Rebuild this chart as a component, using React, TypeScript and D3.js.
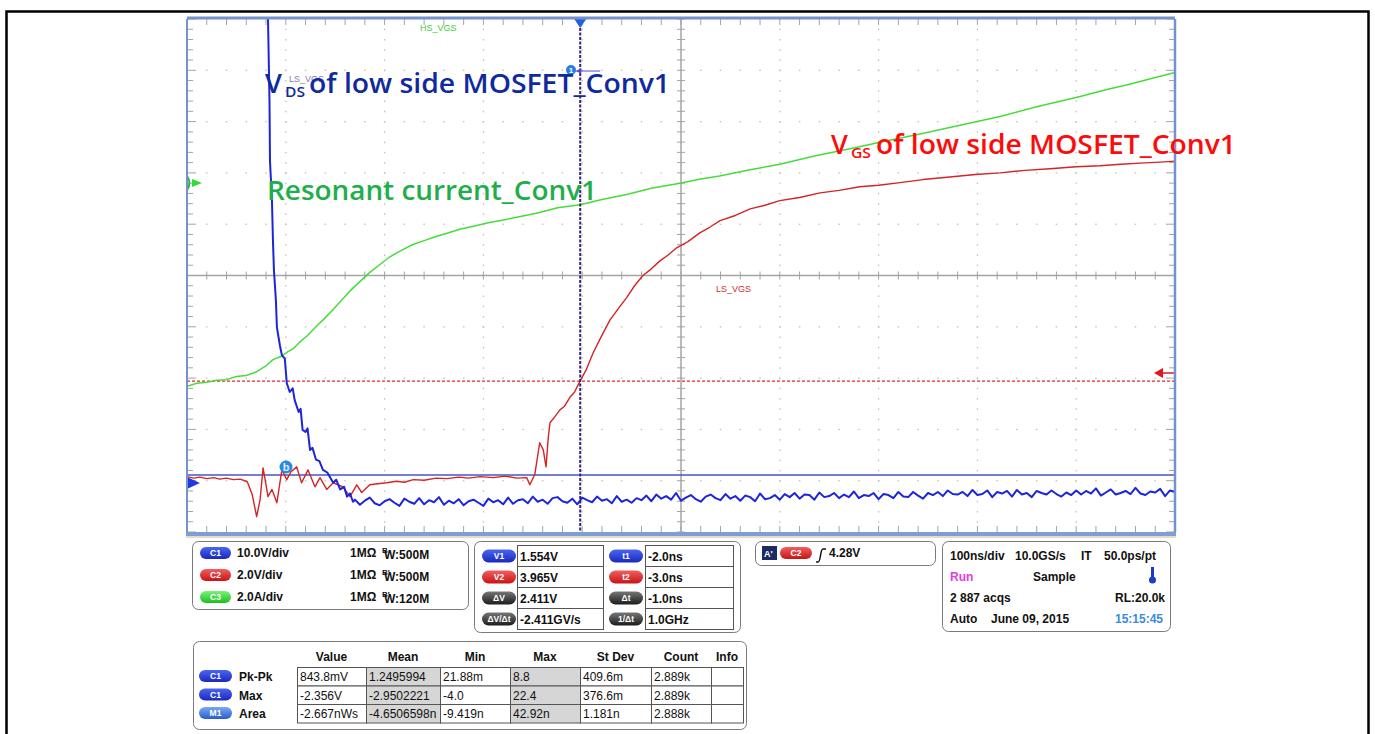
import React from 'react';
import * as d3 from 'd3';

// ---- data (time in ns across the 10-div screen, value in screen divisions) ----
const timeDomain: [number, number] = [0, 1000];
const divDomain: [number, number] = [-5, 5];
const gridTimes = [100, 200, 300, 400, 600, 700, 800, 900];
const gridDivs = [-4, -3, -2, -1, 1, 2, 3, 4];

// C1 : VDS of low side MOSFET (blue)
const vdsTrace: [number, number][] = [
  [81, 5.4], [82, 5.0], [83.5, 3.4], [84, 2.23], [86, 1.46], [87, 0.68], [88, 0.1], [90, -0.49],
  [91, -1.01], [94, -1.36], [96, -1.55], [99, -1.62], [101, -2.1], [104, -2.27], [107, -2.2],
  [109, -2.43], [113, -2.66], [115, -2.6], [117, -3.01], [120, -3.05], [122, -2.98], [124.5, -3.4],
  [127, -3.36], [130.6, -3.59], [134, -3.62], [137.6, -3.79], [142, -3.84], [148, -4.04],
  [151, -3.98], [155, -4.17], [159, -4.12], [162, -4.31], [165, -4.25], [168, -4.41],
  [170, -4.37], [175, -4.47], [180, -4.39], [185, -4.33], [190, -4.44], [195, -4.48], [200, -4.4],
  [205, -4.36], [210, -4.43], [215, -4.49], [220, -4.35], [225, -4.41], [230, -4.45], [235, -4.34],
  [240, -4.46], [245, -4.38], [250, -4.42], [255, -4.32], [260, -4.47], [265, -4.39], [270, -4.44],
  [275, -4.36], [280, -4.48], [285, -4.4], [290, -4.37], [295, -4.43], [300, -4.49], [305, -4.35],
  [310, -4.42], [315, -4.38], [320, -4.46], [325, -4.33], [330, -4.45], [335, -4.38], [340, -4.36],
  [345, -4.44], [350, -4.31], [355, -4.41], [360, -4.37], [365, -4.45], [370, -4.34], [375, -4.32],
  [380, -4.4], [385, -4.43], [390, -4.35], [395, -4.46], [400, -4.33], [405, -4.38], [410, -4.42],
  [415, -4.31], [420, -4.39], [425, -4.36], [430, -4.44], [435, -4.3], [440, -4.41], [445, -4.37],
  [450, -4.43], [455, -4.34], [460, -4.38], [465, -4.29], [470, -4.4], [475, -4.27], [480, -4.35],
  [485, -4.3], [490, -4.37], [495, -4.24], [500, -4.39], [505, -4.33], [510, -4.28], [515, -4.36],
  [520, -4.41], [525, -4.31], [530, -4.27], [535, -4.34], [540, -4.38], [545, -4.26], [550, -4.35],
  [555, -4.3], [560, -4.39], [565, -4.29], [570, -4.32], [575, -4.4], [580, -4.25], [585, -4.36],
  [590, -4.34], [595, -4.28], [600, -4.37], [605, -4.26], [610, -4.32], [615, -4.24], [620, -4.35],
  [625, -4.27], [630, -4.28], [635, -4.37], [640, -4.23], [645, -4.32], [650, -4.3], [655, -4.24],
  [660, -4.34], [665, -4.27], [670, -4.32], [675, -4.21], [680, -4.34], [685, -4.28], [690, -4.3],
  [695, -4.24], [700, -4.36], [705, -4.26], [710, -4.28], [715, -4.34], [720, -4.22], [725, -4.31],
  [730, -4.32], [735, -4.22], [740, -4.29], [745, -4.35], [750, -4.24], [755, -4.28], [760, -4.22],
  [765, -4.3], [770, -4.19], [775, -4.26], [780, -4.27], [785, -4.22], [790, -4.3], [795, -4.18],
  [800, -4.28], [805, -4.26], [810, -4.19], [815, -4.32], [820, -4.22], [825, -4.25], [830, -4.2],
  [835, -4.31], [840, -4.18], [845, -4.27], [850, -4.24], [855, -4.32], [860, -4.2], [865, -4.24],
  [870, -4.27], [875, -4.19], [880, -4.26], [885, -4.31], [890, -4.23], [895, -4.28], [900, -4.19],
  [905, -4.27], [910, -4.2], [915, -4.25], [920, -4.15], [925, -4.29], [930, -4.23], [935, -4.17],
  [940, -4.27], [945, -4.24], [950, -4.2], [955, -4.26], [960, -4.14], [965, -4.25], [970, -4.28],
  [975, -4.21], [980, -4.23], [985, -4.16], [990, -4.3], [995, -4.19], [1000, -4.22],
];

// C2 : VGS of low side MOSFET (red)
const vgsTrace: [number, number][] = [
  [0, -3.92], [7, -3.95], [13, -3.93], [20, -3.96], [27, -3.94], [33, -3.97], [40, -3.95],
  [47, -3.98], [54, -3.97], [61, -4.02], [66, -4.27], [70.5, -4.7], [74, -4.37], [77, -3.75],
  [82, -4.31], [86, -4.17], [91, -4.43], [96, -3.79], [101, -3.98], [105, -3.83], [111, -3.73],
  [116, -4.04], [122.5, -3.79], [129.5, -4.12], [134.6, -3.94], [141.4, -4.17], [148, -4.04],
  [158, -4.12], [165, -4.31], [171.8, -4.08], [176.8, -4.23], [185, -4.08], [193, -4.06],
  [202, -4.04], [212, -4.01], [220, -4.03], [229, -3.98], [240, -3.99], [252, -3.95], [263, -3.96],
  [275, -3.93], [285, -3.95], [296.6, -3.92], [310, -3.94], [322, -3.91], [334, -3.95],
  [343.8, -3.94], [347, -4.08], [352, -3.88], [357, -3.26], [360.6, -3.4], [363.4, -3.73],
  [365.7, -3.15], [367.4, -2.87], [372, -2.76], [377.5, -2.62], [382, -2.55], [387.7, -2.37],
  [392, -2.28], [397.8, -2.06], [404, -1.84], [411, -1.51], [418, -1.24], [428, -0.87],
  [436, -0.66], [445, -0.43], [453, -0.2], [461.5, 0.0], [470, 0.13], [479, 0.29], [487, 0.4],
  [495.6, 0.54], [507, 0.66], [519, 0.83], [529, 0.94], [539.5, 1.07], [555, 1.17], [570, 1.3],
  [585, 1.37], [600, 1.46], [620, 1.52], [640.7, 1.61], [660, 1.66], [681, 1.73], [700, 1.76],
  [721.7, 1.81], [745, 1.87], [772, 1.92], [798, 1.97], [823, 2.0], [848, 2.05], [873.5, 2.08],
  [900, 2.12], [924, 2.14], [945, 2.17], [964.6, 2.19], [985, 2.21], [1000, 2.23],
];

// C3 : Resonant current (green)
const currentTrace: [number, number][] = [
  [0, -2.16], [10, -2.1], [20, -2.08], [30, -2.04], [40, -2.03], [50, -1.97], [60, -1.95],
  [70, -1.88], [80, -1.76], [87, -1.64], [95, -1.58], [101, -1.5], [108, -1.42], [114, -1.3],
  [122, -1.17], [130, -1.01], [138, -0.86], [146, -0.7], [155, -0.51], [165, -0.3], [175, -0.12],
  [185, 0.06], [195, 0.21], [205, 0.36], [216, 0.48], [228, 0.6], [240, 0.68], [252, 0.76],
  [264, 0.83], [276, 0.9], [290, 0.96], [305, 1.03], [320, 1.08], [340, 1.16], [357, 1.23],
  [375, 1.32], [398, 1.38], [420, 1.48], [445, 1.58], [470, 1.7], [499, 1.8], [520, 1.88],
  [539, 1.94], [570, 2.06], [600, 2.17], [635, 2.33], [671, 2.47], [705, 2.61], [742, 2.76],
  [780, 2.92], [823, 3.1], [860, 3.29], [904, 3.49], [930, 3.62], [954, 3.73], [980, 3.86],
  [1000, 3.96],
];

const cursorTime = 398; // vertical cursor / trigger position
const redLevelDiv = -2.06; // dashed trigger level
const blueCursorDiv = -3.89;

const channelRows = [
  { ch: 'C1', color: 'blue', scale: '10.0V/div', imp: '1MΩ', bw: ':500M', prime: false },
  { ch: 'C2', color: 'red', scale: '2.0V/div', imp: '1MΩ', bw: ':500M', prime: true },
  { ch: 'C3', color: 'green', scale: '2.0A/div', imp: '1MΩ', bw: ':120M', prime: true },
];
const cursorRows = [
  ['V1', 'blue', '1.554V', 't1', 'blue', '-2.0ns'],
  ['V2', 'red', '3.965V', 't2', 'red', '-3.0ns'],
  ['ΔV', 'black', '2.411V', 'Δt', 'black', '-1.0ns'],
  ['ΔV/Δt', 'black', '-2.411GV/s', '1/Δt', 'black', '1.0GHz'],
];
const measHeaders = ['Value', 'Mean', 'Min', 'Max', 'St Dev', 'Count', 'Info'];
const measRows = [
  { ch: 'C1', color: 'blue', name: 'Pk-Pk', vals: ['843.8mV', '1.2495994', '21.88m', '8.8', '409.6m', '2.889k', ''] },
  { ch: 'C1', color: 'blue', name: 'Max', vals: ['-2.356V', '-2.9502221', '-4.0', '22.4', '376.6m', '2.889k', ''] },
  { ch: 'M1', color: 'math', name: 'Area', vals: ['-2.667nWs', '-4.6506598n', '-9.419n', '42.92n', '1.181n', '2.888k', ''] },
];

// ---- styles ----
const PX0 = 187, PX1 = 1175, PY0 = 19, PY1 = 532;
const pillColors: Record<string, [string, string]> = {
  blue: ['#4a66f0', '#1a28c0'],
  red: ['#f06060', '#c81414'],
  green: ['#7af27a', '#1cc01c'],
  black: ['#777', '#1c1c1c'],
  math: ['#7aa8f2', '#2a5ccc'],
};
const UI = '"Liberation Sans", Arial, sans-serif';
const BIG = '"Open Sans", "Noto Sans", sans-serif';

function Pill({ x, y, w, h, color, label }: any) {
  return (
    <g>
      <rect x={x} y={y} width={w} height={h} rx={h / 2} fill={`url(#pill-${color})`} />
      <text x={x + w / 2} y={y + h / 2 + 3} textAnchor="middle" fontSize={8.5} fontFamily={UI}
        fill="#fff" fontWeight="bold">{label}</text>
    </g>
  );
}

export default function App() {
  const x = d3.scaleLinear().domain(timeDomain).range([PX0, PX1]);
  const y = d3.scaleLinear().domain(divDomain).range([PY1, PY0]);
  const line = d3.line<[number, number]>().x(d => x(d[0])).y(d => y(d[1]));

  const minorT = d3.range(timeDomain[0], timeDomain[1] + 0.01, 20);
  const minorD = d3.range(divDomain[0], divDomain[1] + 0.001, 0.2);
  const cx = x(500), cy = y(0);

  return (
    <svg width={1375} height={734} style={{ position: 'absolute', left: 0, top: 0, background: '#fff' }}>
      <defs>
        {Object.entries(pillColors).map(([k, [a, b]]) => (
          <linearGradient key={k} id={`pill-${k}`} x1="0" y1="0" x2="0" y2="1">
            <stop offset="0" stopColor={a} />
            <stop offset="1" stopColor={b} />
          </linearGradient>
        ))}
        <clipPath id="plotClip">
          <rect x={PX0} y={PY0} width={PX1 - PX0} height={PY1 - PY0} />
        </clipPath>
      </defs>

      {/* outer frame */}
      <path d="M6.5,740 V11.5 H1368.5 V740" fill="none" stroke="#000" strokeWidth={2.5} />

      {/* plot background */}
      <rect x={PX0} y={PY0} width={PX1 - PX0} height={PY1 - PY0} fill="#fff" />

      {/* dotted grid */}
      <g fill="#c4c4c4">
        {gridTimes.map(t => minorD.map((d, i) => (
          <rect key={`v${t}-${i}`} x={x(t) - 0.6} y={y(d) - 0.6} width={1.3} height={1.6} />
        )))}
        {gridDivs.map(dv => minorT.map((t, i) => (
          <rect key={`h${dv}-${i}`} x={x(t) - 0.8} y={y(dv) - 0.6} width={1.6} height={1.3} />
        )))}
      </g>

      {/* center cross with ticks */}
      <g stroke="#a4a4a4">
        <line x1={cx} x2={cx} y1={PY0} y2={PY1} strokeWidth={1.5} />
        <line x1={PX0} x2={PX1} y1={cy} y2={cy} strokeWidth={1.5} />
        {minorD.map((d, i) => (
          <line key={`cvt${i}`} x1={cx - 4} x2={cx + 4} y1={y(d)} y2={y(d)} strokeWidth={1} />
        ))}
        {minorT.map((t, i) => (
          <line key={`cht${i}`} x1={x(t)} x2={x(t)} y1={cy - 4} y2={cy + 4} strokeWidth={1} />
        ))}
        {/* edge ticks */}
        {minorT.map((t, i) => (
          <g key={`et${i}`}>
            <line x1={x(t)} x2={x(t)} y1={PY0} y2={PY0 + 6} strokeWidth={1} />
            <line x1={x(t)} x2={x(t)} y1={PY1 - 6} y2={PY1} strokeWidth={1} />
          </g>
        ))}
        {minorD.map((d, i) => (
          <g key={`ed${i}`}>
            <line x1={PX0} x2={PX0 + (Math.abs(d - Math.round(d)) < 0.01 ? 9 : 6)} y1={y(d)} y2={y(d)} strokeWidth={1} />
            <line x1={PX1 - (Math.abs(d - Math.round(d)) < 0.01 ? 9 : 6)} x2={PX1} y1={y(d)} y2={y(d)} strokeWidth={1} />
          </g>
        ))}
      </g>

      {/* small trace labels */}
      <text x={420} y={31} fontSize={9} fill="#3ccc3c" fontFamily={UI}>HS_VGS</text>
      <text x={289} y={82} fontSize={9} fill="#8080a8" fontFamily={UI}>LS_VGS</text>
      <text x={716} y={292} fontSize={9} fill="#c83030" fontFamily={UI}>LS_VGS</text>

      {/* cursors & level lines */}
      <line x1={PX0} x2={PX1} y1={y(blueCursorDiv)} y2={y(blueCursorDiv)} stroke="#4656c8" strokeWidth={1.5} />
      <line x1={PX0} x2={PX1} y1={y(redLevelDiv)} y2={y(redLevelDiv)} stroke="#e02a2a" strokeWidth={1.2} strokeDasharray="3,2" />

      <g clipPath="url(#plotClip)" fill="none" strokeLinejoin="round">
        <path d={line(currentTrace) || ''} stroke="#46dc3c" strokeWidth={1.5} />
        <path d={line(vgsTrace) || ''} stroke="#d42424" strokeWidth={1.4} />
        <path d={line(vdsTrace) || ''} stroke="#1c26d8" strokeWidth={2} />
      </g>

      {/* vertical cursor */}
      <line x1={x(cursorTime)} x2={x(cursorTime)} y1={PY0} y2={PY1} stroke="#3a1f7a" strokeWidth={2} strokeDasharray="3,1.5" />
      <path d={`M${x(cursorTime) - 6},${PY0} L${x(cursorTime) + 6},${PY0} L${x(cursorTime)},${PY0 + 9} Z`} fill="#2460e0" />

      {/* markers */}
      <g>
        <line x1={x(cursorTime) - 5} x2={x(cursorTime) + 20} y1={71} y2={71} stroke="#5050c0" strokeWidth={1} />
        <path d={`M${x(cursorTime) - 4},71 l5,-3 v6 Z`} fill="#5050c0" />
        <circle cx={571} cy={70} r={5} fill="#2a7ce0" />
        <text x={571} y={73} textAnchor="middle" fontSize={8} fill="#fff" fontFamily={UI} fontWeight="bold">1</text>
        <circle cx={286} cy={467} r={6.5} fill="#2a88e0" />
        <text x={286} y={471} textAnchor="middle" fontSize={11} fill="#dfefff" fontFamily={UI} fontWeight="bold">b</text>
        <path d={`M${PX0},176 q5,7 0,14`} stroke="#22b84a" strokeWidth={2} fill="none" />
        <path d={`M192,179 l10,4 l-10,4 Z`} fill="#34d83a" />
        <path d={`M${PX0},477 l13,6 l-13,6 Z`} fill="#1c3ce0" />
        <path d={`M${PX1},373 h-12`} stroke="#e01818" strokeWidth={1.5} />
        <path d={`M1154,373 l9,-5 v10 Z`} fill="#e01818" />
      </g>

      {/* plot border */}
      <g fill="none" stroke="#7592cc">
        <line x1={PX0} x2={PX1} y1={PY0 - 1} y2={PY0 - 1} strokeWidth={3} />
        <line x1={PX0} x2={PX0} y1={PY0} y2={PY1} strokeWidth={2} />
        <line x1={PX1} x2={PX1} y1={PY0} y2={PY1} strokeWidth={2.5} />
      </g>
      <rect x={PX0 - 1} y={PY1} width={PX1 - PX0 + 2} height={4} fill="#7d9ed6" />
      <rect x={PX0 - 1} y={PY1 + 4} width={PX1 - PX0 + 2} height={2} fill="#e6dcc2" />

      {/* big annotations */}
      <g fontFamily={BIG} fontWeight={600}>
        <text x={265} y={93} fill="#0f2a9e" fontSize={27}>V</text>
        <text x={285} y={97} fill="#0f2a9e" fontSize={15} textLength={20} lengthAdjust="spacingAndGlyphs">DS</text>
        <text x={309} y={93} fill="#0f2a9e" fontSize={27} textLength={361} lengthAdjust="spacingAndGlyphs">of low side MOSFET_Conv1</text>
        <text x={267} y={200} fill="#1fae4c" fontSize={27} textLength={330} lengthAdjust="spacingAndGlyphs">Resonant current_Conv1</text>
        <text x={831} y={154} fill="#ff0a0a" fontSize={27}>V</text>
        <text x={851} y={158} fill="#ff0a0a" fontSize={15} textLength={20} lengthAdjust="spacingAndGlyphs">GS</text>
        <text x={876} y={154} fill="#ff0a0a" fontSize={27} textLength={360} lengthAdjust="spacingAndGlyphs">of low side MOSFET_Conv1</text>
      </g>

      {/* ---- bottom panels ---- */}
      <g fontFamily={UI} fontSize={12} fontWeight="bold" fill="#111">
        {/* channel panel */}
        <rect x={192.5} y={541.5} width={276} height={68} rx={6} fill="#fff" stroke="#7a7a7a" />
        {channelRows.map((r, i) => {
          const yy = 553 + i * 22;
          return (
            <g key={r.ch}>
              <Pill x={200} y={yy - 6} w={31} h={12} color={r.color} label={r.ch} />
              <text x={237} y={yy + 4}>{r.scale}</text>
              <text x={350} y={yy + 4}>{r.imp}</text>
              <text x={382} y={yy} fontSize={8}>B{r.prime ? '′' : ''}</text>
              <text x={384} y={yy + 6}>W<tspan>{r.bw}</tspan></text>
            </g>
          );
        })}

        {/* cursor panel */}
        <rect x={474.5} y={541.5} width={266} height={91} rx={6} fill="#fff" stroke="#7a7a7a" />
        {cursorRows.map((r, i) => {
          const yy = 556 + i * 21;
          return (
            <g key={r[0]}>
              <Pill x={482} y={yy - 6.5} w={34} h={13} color={r[1]} label={r[0]} />
              <rect x={517.5} y={yy - 10.5} width={86} height={21} fill="#fff" stroke="#555" strokeWidth={1} />
              <text x={520} y={yy + 4.5}>{r[2]}</text>
              <Pill x={609} y={yy - 6.5} w={34} h={13} color={r[4]} label={r[3]} />
              <rect x={645.5} y={yy - 10.5} width={88} height={21} fill="#fff" stroke="#555" strokeWidth={1} />
              <text x={648} y={yy + 4.5}>{r[5]}</text>
            </g>
          );
        })}

        {/* trigger panel */}
        <rect x={755.5} y={541.5} width={180} height={24} rx={6} fill="#fff" stroke="#7a7a7a" />
        <rect x={762} y={546} width={15} height={14} fill="#1c2b63" />
        <text x={764} y={557} fill="#fff" fontSize={9}>A'</text>
        <Pill x={780} y={547} w={32} h={12} color="red" label="C2" />
        <path d="M816,562 h2 C821,562 820,549 823,549 h3" stroke="#111" strokeWidth={1.5} fill="none" />
        <text x={829} y={557}>4.28V</text>

        {/* timebase panel */}
        <rect x={942.5} y={541.5} width={228} height={90} rx={6} fill="#fff" stroke="#7a7a7a" />
        <text x={950} y={560}>100ns/div</text>
        <text x={1015} y={560}>10.0GS/s</text>
        <text x={1081} y={560}>IT</text>
        <text x={1104} y={560}>50.0ps/pt</text>
        <text x={950} y={581} fill="#e43ce4">Run</text>
        <text x={1033} y={581}>Sample</text>
        <rect x={1151} y={567} width={3} height={12} fill="#1a3cc8" />
        <circle cx={1152.5} cy={580} r={3.5} fill="#1a3cc8" />
        <text x={950} y={602}>2 887 acqs</text>
        <text x={1115} y={602}>RL:20.0k</text>
        <text x={950} y={623}>Auto</text>
        <text x={991} y={623}>June 09, 2015</text>
        <text x={1115} y={623} fill="#3a8ae0">15:15:45</text>

        {/* measurement panel */}
        <rect x={193.5} y={641.5} width={553} height={88} rx={6} fill="#fff" stroke="#7a7a7a" />
        {(() => {
          const colEdges = [297, 366, 440, 510, 580, 651, 711, 743];
          const rowTop = 667, rowH = 18.5;
          return (
            <g>
              {measHeaders.map((h, j) => (
                <text key={h} x={(colEdges[j] + colEdges[j + 1]) / 2} y={661} textAnchor="middle">{h}</text>
              ))}
              {measRows.map((r, i) => {
                const yy = rowTop + i * rowH;
                return (
                  <g key={i}>
                    <Pill x={199} y={yy + 3} w={33} h={12} color={r.color} label={r.ch} />
                    <text x={239} y={yy + 14}>{r.name}</text>
                    {r.vals.map((v, j) => (
                      <g key={j}>
                        <rect x={colEdges[j] + 0.5} y={yy + 0.5} width={colEdges[j + 1] - colEdges[j]} height={rowH}
                          fill={j === 1 || j === 3 ? '#d6d6d6' : '#fff'} stroke="#555" strokeWidth={1} />
                        <text x={colEdges[j] + 3} y={yy + 14} fontWeight="normal">{v}</text>
                      </g>
                    ))}
                  </g>
                );
              })}
            </g>
          );
        })()}
      </g>
    </svg>
  );
}
